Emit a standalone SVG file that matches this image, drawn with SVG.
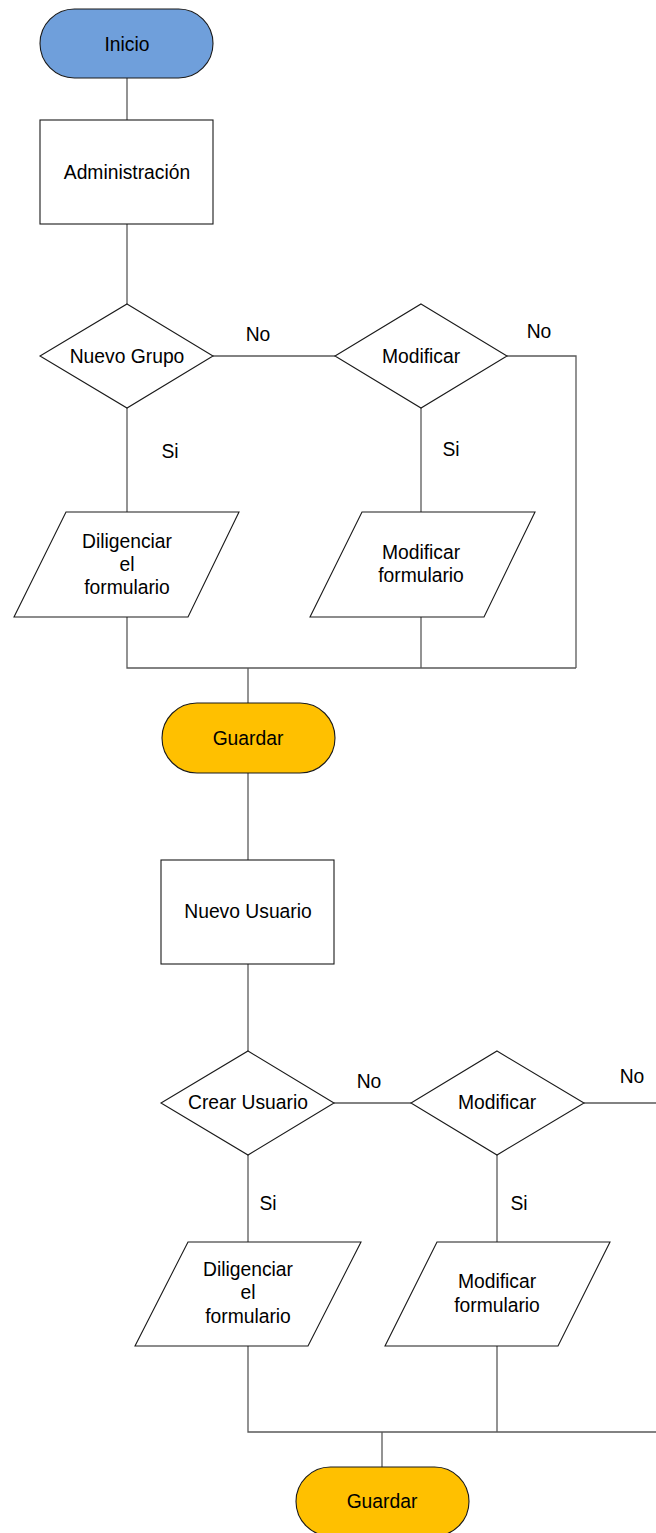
<svg xmlns="http://www.w3.org/2000/svg" width="656" height="1533" viewBox="0 0 656 1533">
<style>
.shape{fill:#ffffff;stroke:#1a1a1a;stroke-width:1.1}
.start{fill:#6f9fdb;stroke:#1a1a1a;stroke-width:1.1}
.save{fill:#ffc000;stroke:#1a1a1a;stroke-width:1.1}
.conn{fill:none;stroke:#595959;stroke-width:1.3}
text{font-family:"Liberation Sans",Arial,sans-serif;font-size:19.3px;fill:#000;text-anchor:middle}
</style>
<rect width="656" height="1533" fill="#ffffff"/>
<g id="connectors">
<path class="conn" d="M127,78 V120"/>
<path class="conn" d="M127,224 V304"/>
<path class="conn" d="M213,356 H335"/>
<path class="conn" d="M507,356 H576 V668"/>
<path class="conn" d="M127,408 V512"/>
<path class="conn" d="M421,408 V512"/>
<path class="conn" d="M127,617 V668 H576"/>
<path class="conn" d="M421,617 V668"/>
<path class="conn" d="M248,668 V703"/>
<path class="conn" d="M248,773 V860"/>
<path class="conn" d="M248,964 V1051"/>
<path class="conn" d="M334,1103 H411"/>
<path class="conn" d="M584,1103 H656"/>
<path class="conn" d="M248,1155 V1242"/>
<path class="conn" d="M497,1155 V1242"/>
<path class="conn" d="M248,1346 V1432 H656"/>
<path class="conn" d="M497,1346 V1432"/>
<path class="conn" d="M382,1432 V1467"/>
<text x="258" y="341">No</text>
<text x="539" y="338">No</text>
<text x="170" y="458">Si</text>
<text x="451" y="456">Si</text>
<text x="369" y="1088">No</text>
<text x="632" y="1083">No</text>
<text x="268" y="1210">Si</text>
<text x="519" y="1210">Si</text>
</g>
<g id="inicio">
<rect class="start" x="40" y="9" width="173" height="69" rx="34.5" ry="34.5"/>
<text x="127" y="50.5">Inicio</text>
</g>
<g id="administracion">
<rect class="shape" x="40" y="120" width="173" height="104"/>
<text x="127" y="179">Administración</text>
</g>
<g id="nuevo-grupo">
<polygon class="shape" points="127,304 213,356 127,408 40,356"/>
<text x="127" y="363">Nuevo Grupo</text>
</g>
<g id="modificar-1">
<polygon class="shape" points="421,304 507,356 421,408 335,356"/>
<text x="421" y="363">Modificar</text>
</g>
<g id="diligenciar-1">
<polygon class="shape" points="66,512 239,512 188,617 14,617"/>
<text x="127" y="548">Diligenciar</text>
<text x="127" y="571">el</text>
<text x="127" y="594">formulario</text>
</g>
<g id="modificar-formulario-1">
<polygon class="shape" points="362,512 535,512 484,617 310,617"/>
<text x="421" y="559">Modificar</text>
<text x="421" y="582">formulario</text>
</g>
<g id="guardar-1">
<rect class="save" x="162" y="703" width="173" height="70" rx="35" ry="35"/>
<text x="248" y="745">Guardar</text>
</g>
<g id="nuevo-usuario">
<rect class="shape" x="161" y="860" width="173" height="104"/>
<text x="248" y="918">Nuevo Usuario</text>
</g>
<g id="crear-usuario">
<polygon class="shape" points="248,1051 334,1103 248,1155 161,1103"/>
<text x="248" y="1109">Crear Usuario</text>
</g>
<g id="modificar-2">
<polygon class="shape" points="497,1051 584,1103 497,1155 411,1103"/>
<text x="497" y="1109">Modificar</text>
</g>
<g id="diligenciar-2">
<polygon class="shape" points="188,1242 361,1242 308,1346 135,1346"/>
<text x="248" y="1276">Diligenciar</text>
<text x="248" y="1299">el</text>
<text x="248" y="1323">formulario</text>
</g>
<g id="modificar-formulario-2">
<polygon class="shape" points="437,1242 610,1242 558,1346 385,1346"/>
<text x="497" y="1288">Modificar</text>
<text x="497" y="1312">formulario</text>
</g>
<g id="guardar-2">
<rect class="save" x="296" y="1467" width="173" height="69" rx="34.5" ry="34.5"/>
<text x="382" y="1507.5">Guardar</text>
</g>
</svg>
